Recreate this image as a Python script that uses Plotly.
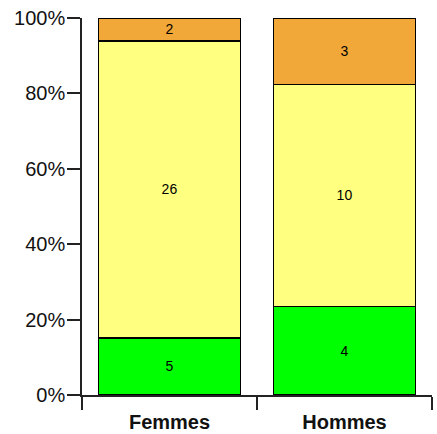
import plotly.graph_objects as go

categories = ["Femmes", "Hommes"]
series_names = ["Vert", "Jaune", "Orange"]
green_vals = [5, 4]
yellow_vals = [26, 10]
orange_vals = [2, 3]
colors = ["#00FF00", "#FFFF80", "#F2A838"]
y_ticks = [0, 0.2, 0.4, 0.6, 0.8, 1.0]
y_tick_labels = ["0%", "20%", "40%", "60%", "80%", "100%"]

fig = go.Figure()
for name, vals, col in zip(series_names, [green_vals, yellow_vals, orange_vals], colors):
    fig.add_trace(go.Bar(
        x=categories, y=vals, name=name,
        text=[str(v) for v in vals], textposition="inside",
        insidetextanchor="middle", textangle=0,
        textfont=dict(family="Liberation Sans, Arial, sans-serif", size=14, color="black"),
        marker=dict(color=col, line=dict(color="black", width=1.5)),
    ))

fig.update_layout(
    barmode="stack", barnorm="fraction", bargap=0.19,
    width=437, height=434,
    margin=dict(l=82, r=5, t=18, b=39, autoexpand=False),
    paper_bgcolor="white", plot_bgcolor="white",
    showlegend=False,
    font=dict(family="Liberation Sans, Arial, sans-serif", color="black"),
)
fig.update_yaxes(
    range=[0, 1], tickvals=y_ticks, ticktext=y_tick_labels, automargin=False,
    showgrid=False, zeroline=False, showline=True, linecolor="#222", linewidth=1.5,
    ticks="outside", ticklen=13, tickwidth=1.5, tickcolor="#222",
    tickfont=dict(size=20, color="#111"), ticklabelstandoff=-2,
)
fig.update_xaxes(
    automargin=False,
    showgrid=False, showline=True, linecolor="#222", linewidth=1.5,
    ticks="outside", tickson="boundaries", ticklen=13, tickwidth=1.5, tickcolor="#222",
    tickfont=dict(size=20, color="#111", family="Liberation Sans, Arial, sans-serif", weight="bold"),
    ticklabelstandoff=8,
)

fig.write_html(
    "out.html",
    config={"displayModeBar": False},
    post_script="document.body.style.margin='0';document.body.style.overflow='hidden';",
)
